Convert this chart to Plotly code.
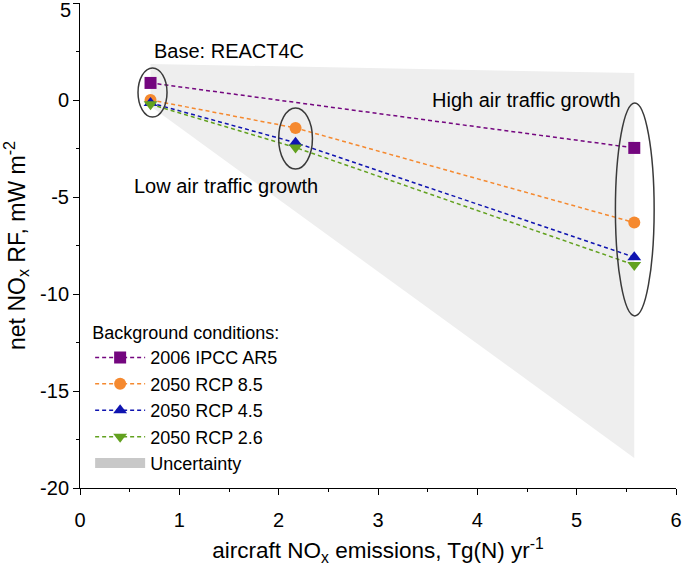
import plotly.graph_objects as go

# ---- data ----
x_points = [0.71, 2.17, 5.58]
ipcc_x = [0.71, 5.58]
ipcc_y = [0.88, -2.47]
rcp85_y = [0.0, -1.44, -6.32]
rcp45_y = [-0.15, -2.2, -8.1]
rcp26_y = [-0.22, -2.45, -8.5]

unc_x = [0.71, 5.58, 5.58, 0.71]
unc_y = [1.86, 1.39, -18.45, -0.32]

series_names = ["2006 IPCC AR5", "2050 RCP 8.5", "2050 RCP 4.5", "2050 RCP 2.6"]
x_ticks = [0, 1, 2, 3, 4, 5, 6]
x_tick_labels = ["0", "1", "2", "3", "4", "5", "6"]
y_ticks = [-20, -15, -10, -5, 0, 5]
y_tick_labels = ["-20", "-15", "-10", "-5", "0", "5"]

FONT = "Arial, Liberation Sans, sans-serif"
colors = ["#74067f", "#f5892f", "#0f14b0", "#62a11f"]
symbols = ["square", "circle", "triangle-up", "triangle-down"]
dash = "4px,3px"

fig = go.Figure()

# uncertainty region
fig.add_trace(go.Scatter(x=unc_x, y=unc_y, fill="toself", fillcolor="#eeeeee",
                         line=dict(width=0), mode="lines", hoverinfo="skip",
                         showlegend=False))

ys = [ipcc_y, rcp85_y, rcp45_y, rcp26_y]
xs = [ipcc_x, x_points, x_points, x_points]
for name, xv, yv, c, s in zip(series_names, xs, ys, colors, symbols):
    fig.add_trace(go.Scatter(x=xv, y=yv, name=name, mode="lines+markers",
                             line=dict(color=c, width=1.5, dash=dash),
                             marker=dict(color=c, symbol=s, size=12, line=dict(width=0))))

# legend-only uncertainty swatch
fig.add_trace(go.Scatter(x=[None], y=[None], name="Uncertainty", mode="lines",
                         line=dict(width=16, color="#c8c8c8")))

# ellipses around scenario groups
ell = [(0.584, 0.876, -0.88, 1.65), (2.00, 2.34, -3.56, -0.41), (5.39, 5.78, -11.13, -0.15)]
for x0, x1, y0, y1 in ell:
    fig.add_shape(type="circle", xref="x", yref="y", x0=x0, x1=x1, y0=y0, y1=y1,
                  line=dict(color="#3a3a3a", width=1.5), layer="above")

fig.add_annotation(x=0.725, y=2.55, text="Base: REACT4C", showarrow=False,
                   xanchor="left", yanchor="middle", font=dict(size=20, family=FONT, color="black"))
fig.add_annotation(x=5.47, y=0.0, text="High air traffic growth", showarrow=False,
                   xanchor="right", yanchor="middle", font=dict(size=20, family=FONT, color="black"))
fig.add_annotation(x=0.52, y=-4.43, text="Low air traffic growth", showarrow=False,
                   xanchor="left", yanchor="middle", font=dict(size=20, family=FONT, color="black"))
# top y tick label kept inside the page
fig.add_annotation(xref="paper", x=0, y=y_ticks[-1], text=y_tick_labels[-1], showarrow=False,
                   xanchor="right", yanchor="top", xshift=-7, yshift=6,
                   font=dict(size=20, family=FONT, color="black"))

fig.update_layout(
    width=685, height=566,
    margin=dict(l=80, r=9, t=3, b=78),
    paper_bgcolor="white", plot_bgcolor="white",
    font=dict(family=FONT, size=20, color="black"),
    legend=dict(x=0.017, y=0.355, xanchor="left", yanchor="top",
                title=dict(text="Background conditions:", font=dict(size=18)),
                font=dict(size=18), itemwidth=50, tracegroupgap=0,
                bgcolor="rgba(0,0,0,0)"),
    xaxis=dict(range=[0, 6], tickvals=x_ticks, ticktext=x_tick_labels, automargin=False,
               showline=True, linecolor="black", linewidth=1,
               ticks="outside", ticklen=6, tickcolor="black", showgrid=False, zeroline=False,
               minor=dict(ticks="outside", ticklen=3, dtick=0.5, tickcolor="black", showgrid=False),
               ticklabelstandoff=8,
               title=dict(text="aircraft NO<sub>x</sub> emissions, Tg(N) yr<sup>-1</sup>", standoff=13,
                          font=dict(size=22.5))),
    yaxis=dict(range=[-20, 5], tickvals=y_ticks, automargin=False,
               ticktext=y_tick_labels[:-1] + [""],
               showline=True, linecolor="black", linewidth=1,
               ticks="outside", ticklen=6, tickcolor="black", showgrid=False, zeroline=False,
               minor=dict(ticks="outside", ticklen=3, dtick=2.5, tickcolor="black", showgrid=False),
               title=dict(text="net NO<sub>x</sub> RF, mW m<sup>-2</sup>", standoff=8,
                          font=dict(size=23))),
)

fig.write_html("out.html", config={"displayModeBar": False},
               post_script="document.body.style.margin='0';")
